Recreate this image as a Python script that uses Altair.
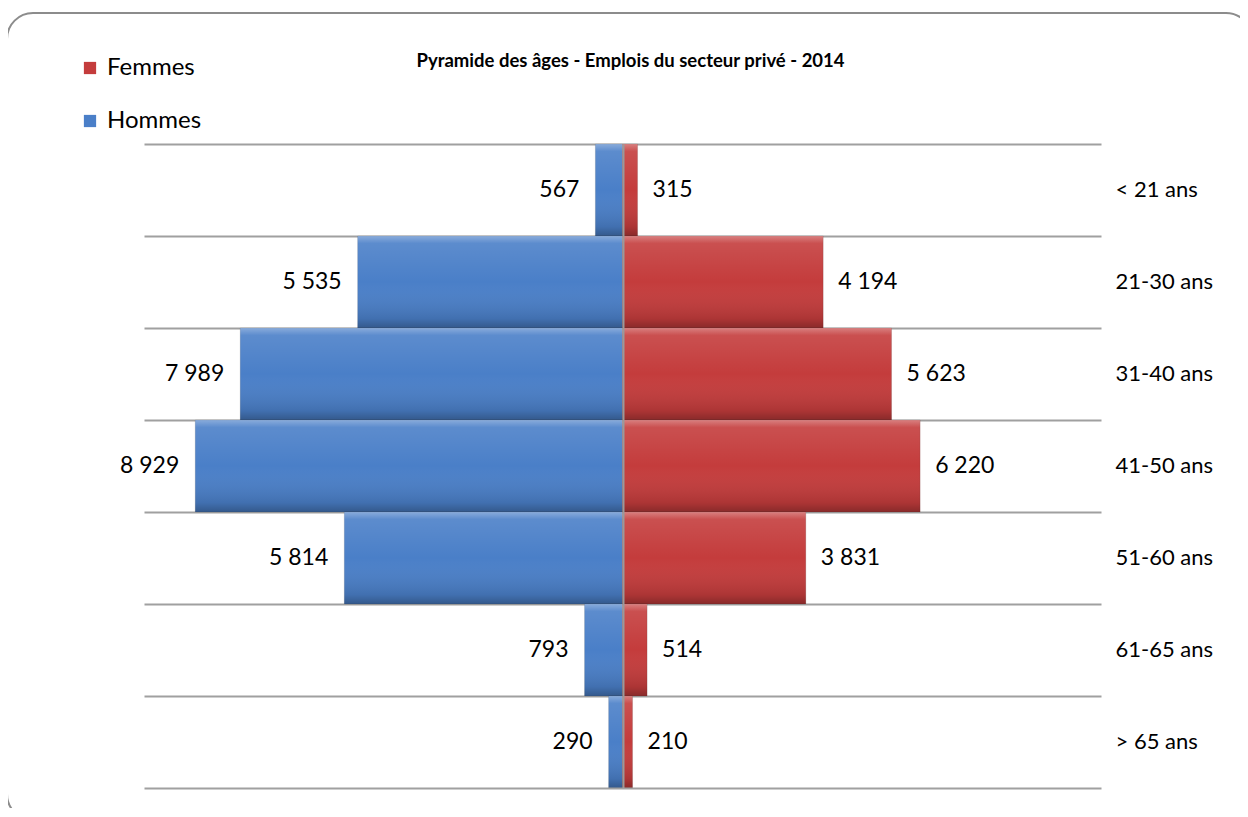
import altair as alt
import pandas as pd

ages = ["< 21 ans", "21-30 ans", "31-40 ans", "41-50 ans", "51-60 ans", "61-65 ans", "> 65 ans"]
hommes = [567, 5535, 7989, 8929, 5814, 793, 290]
femmes = [315, 4194, 5623, 6220, 3831, 514, 210]
title = "Pyramide des âges - Emplois du secteur privé - 2014"

FONT = "Lato"

def fmt(v):
    return f"{v:,}".replace(",", " ")

rows = []
for a, h, f in zip(ages, hommes, femmes):
    rows.append({"age": a, "sexe": "Hommes", "val": -h, "label": fmt(h)})
    rows.append({"age": a, "sexe": "Femmes", "val": f, "label": fmt(f)})
df = pd.DataFrame(rows)

W, H = 957, 644

xs = alt.Scale(domain=[-10000, 10000], nice=False, zero=False)
ys = alt.Scale(domain=ages, paddingInner=0, paddingOuter=0)

base = alt.Chart(df)

frame = alt.Chart(pd.DataFrame({"k": [0]})).mark_rect(
    fill=None, fillOpacity=0, stroke="#8c8c8c", strokeWidth=2, cornerRadius=26, clip=False
).encode(
    x=alt.value(-137), x2=alt.value(1108), y=alt.value(-131), y2=alt.value(676)
)

bars = base.mark_bar(stroke="#3a3a3a", strokeOpacity=0.25, strokeWidth=0.6).encode(
    x=alt.X("val:Q", scale=xs,
            axis=alt.Axis(values=[0], grid=True, gridColor="#9a9a9a", gridWidth=2,
                          ticks=False, labels=False, domain=True, domainColor="#a0a0a0",
                          domainWidth=2, title=None, zindex=1)),
    x2=alt.datum(0),
    y=alt.Y("age:N", scale=ys, sort=ages,
            axis=alt.Axis(orient="right", bandPosition=0, labelOffset=0, grid=True,
                          gridColor="#a0a0a0", gridWidth=2, ticks=False, domain=False,
                          labelFont=FONT, labelFontSize=22, labelColor="#000000",
                          labelPadding=14, title=None)),
    color=alt.Color("sexe:N",
                    scale=alt.Scale(domain=["Femmes", "Hommes"], range=["#c43c3c", "#4a7fc8"]),
                    legend=alt.Legend(orient="none", legendX=-66, legendY=-88, title=None,
                                      symbolType="square", symbolSize=150, rowPadding=29,
                                      labelFont=FONT, labelFontSize=24, labelColor="#000000",
                                      symbolStrokeWidth=0, labelOffset=5)),
)

shade = base.mark_bar(
    fill=alt.Gradient(
        gradient="linear", x1=0, x2=0, y1=0, y2=1,
        stops=[
            alt.GradientStop(color="rgba(255,255,255,0.35)", offset=0),
            alt.GradientStop(color="rgba(255,255,255,0.10)", offset=0.08),
            alt.GradientStop(color="rgba(255,255,255,0.0)", offset=0.5),
            alt.GradientStop(color="rgba(0,0,0,0.12)", offset=0.9),
            alt.GradientStop(color="rgba(0,0,0,0.3)", offset=1),
        ],
    )
).encode(x=alt.X("val:Q", scale=xs), x2=alt.datum(0), y=alt.Y("age:N", scale=ys, sort=ages))

lab_h = base.transform_filter(alt.datum.sexe == "Hommes").mark_text(
    align="right", baseline="middle", dx=-16, font=FONT, fontSize=23, color="#000000"
).encode(x=alt.X("val:Q", scale=xs), y=alt.Y("age:N", scale=ys, sort=ages), text="label:N")

lab_f = base.transform_filter(alt.datum.sexe == "Femmes").mark_text(
    align="left", baseline="middle", dx=15, font=FONT, fontSize=23, color="#000000"
).encode(x=alt.X("val:Q", scale=xs), y=alt.Y("age:N", scale=ys, sort=ages), text="label:N")

chart = alt.layer(frame, bars, shade, lab_h, lab_f).properties(
    width=W, height=H,
    title=alt.TitleParams(title, font=FONT, fontSize=18.5, fontWeight="bold", color="#000000",
                          anchor="middle", frame="group", offset=-58, dx=8),
    autosize=alt.AutoSizeParams(type="none"),
    padding={"left": 136, "top": 136, "right": 139, "bottom": 20},
    background="white",
).configure_view(stroke=None)

chart.save("out.html", embed_options={"renderer": "svg", "actions": False})
